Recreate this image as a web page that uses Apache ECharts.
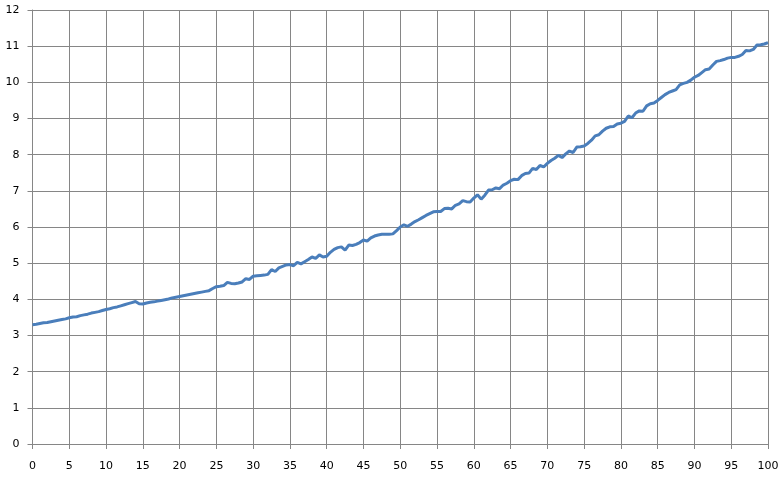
<!DOCTYPE html>
<html>
<head>
<meta charset="utf-8">
<script src="https://cdn.jsdelivr.net/npm/echarts@6/dist/echarts.min.js"></script>
<style>
html,body{margin:0;padding:0;background:#fff;}
#chart{width:784px;height:479px;}
</style>
</head>
<body>
<div id="chart"></div>
<script>
const xValues = [
  0,0.5,1,1.5,2,2.5,3,3.5,4,4.5,5,5.5,6,6.5,7,7.5,8,8.5,9,9.5,
  10,10.5,11,11.5,12,12.5,13,13.5,14,14.5,15,15.5,16,16.5,17,17.5,18,18.5,19,19.5,
  20,20.5,21,21.5,22,22.5,23,23.5,24,24.5,25,25.5,26,26.5,27,27.5,28,28.5,29,29.5,
  30,30.5,31,31.5,32,32.5,33,33.5,34,34.5,35,35.5,36,36.5,37,37.5,38,38.5,39,39.5,
  40,40.5,41,41.5,42,42.5,43,43.5,44,44.5,45,45.5,46,46.5,47,47.5,48,48.5,49,49.5,
  50,50.5,51,51.5,52,52.5,53,53.5,54,54.5,55,55.5,56,56.5,57,57.5,58,58.5,59,59.5,
  60,60.5,61,61.5,62,62.5,63,63.5,64,64.5,65,65.5,66,66.5,67,67.5,68,68.5,69,69.5,
  70,70.5,71,71.5,72,72.5,73,73.5,74,74.5,75,75.5,76,76.5,77,77.5,78,78.5,79,79.5,
  80,80.5,81,81.5,82,82.5,83,83.5,84,84.5,85,85.5,86,86.5,87,87.5,88,88.5,89,89.5,
  90,90.5,91,91.5,92,92.5,93,93.5,94,94.5,95,95.5,96,96.5,97,97.5,98,98.5,99,99.5,
  100
];
const yValues = [
  3.30,3.31,3.33,3.35,3.36,3.38,3.40,3.42,3.44,3.46,3.49,3.51,3.52,3.55,3.57,3.59,3.62,3.64,3.66,3.69,
  3.72,3.74,3.77,3.79,3.82,3.85,3.88,3.91,3.94,3.88,3.87,3.90,3.92,3.93,3.95,3.97,3.99,4.01,4.04,4.06,
  4.08,4.10,4.12,4.14,4.16,4.18,4.20,4.22,4.24,4.30,4.35,4.36,4.38,4.47,4.44,4.43,4.45,4.48,4.57,4.55,
  4.64,4.65,4.66,4.67,4.69,4.82,4.77,4.87,4.91,4.95,4.96,4.93,5.02,4.98,5.04,5.10,5.17,5.13,5.23,5.17,
  5.19,5.30,5.38,5.43,5.45,5.36,5.50,5.49,5.52,5.57,5.64,5.61,5.70,5.75,5.78,5.80,5.80,5.80,5.81,5.90,
  6.00,6.06,6.02,6.08,6.15,6.20,6.26,6.32,6.37,6.42,6.43,6.43,6.51,6.52,6.50,6.60,6.64,6.73,6.70,6.69,
  6.80,6.89,6.77,6.88,7.02,7.03,7.08,7.06,7.16,7.21,7.28,7.32,7.31,7.42,7.48,7.49,7.62,7.59,7.70,7.66,
  7.76,7.84,7.90,7.98,7.92,8.02,8.10,8.06,8.21,8.22,8.24,8.31,8.40,8.52,8.55,8.65,8.73,8.77,8.78,8.85,
  8.87,8.92,9.07,9.02,9.15,9.21,9.20,9.35,9.41,9.43,9.50,9.58,9.66,9.72,9.76,9.80,9.93,9.97,10.00,10.06,
  10.14,10.19,10.27,10.35,10.37,10.48,10.58,10.60,10.63,10.67,10.69,10.69,10.72,10.77,10.88,10.87,10.91,11.03,11.04,11.06,
  11.10
];

const seriesData = xValues.map((x, i) => [x, yValues[i]]);
const gridColor = '#868686';
const labelFont = { color: '#000', fontFamily: 'DejaVu Sans', fontSize: 11 };

const chart = echarts.init(document.getElementById('chart'), null, { renderer: 'canvas' });
chart.setOption({
  animation: false,
  backgroundColor: '#fff',
  grid: { left: 32.5, right: 16, top: 10, bottom: 35, containLabel: false },
  xAxis: {
    type: 'value', min: 0, max: 100, interval: 5,
    axisLine: { show: true, onZero: false, lineStyle: { color: gridColor, width: 1 } },
    axisTick: { show: true, inside: false, length: 5, lineStyle: { color: gridColor } },
    splitLine: { show: true, lineStyle: { color: gridColor, width: 1 } },
    axisLabel: Object.assign({ margin: 17 }, labelFont)
  },
  yAxis: {
    type: 'value', min: 0, max: 12, interval: 1,
    axisLine: { show: true, lineStyle: { color: gridColor, width: 1 } },
    axisTick: { show: true, inside: false, length: 5, lineStyle: { color: gridColor } },
    splitLine: { show: true, lineStyle: { color: gridColor, width: 1 } },
    axisLabel: Object.assign({ margin: 13 }, labelFont)
  },
  series: [{
    type: 'line',
    data: seriesData,
    showSymbol: false,
    smooth: false,
    lineStyle: { color: '#4a7ebb', width: 3 },
    itemStyle: { color: '#4a7ebb' }
  }]
});
</script>
</body>
</html>
